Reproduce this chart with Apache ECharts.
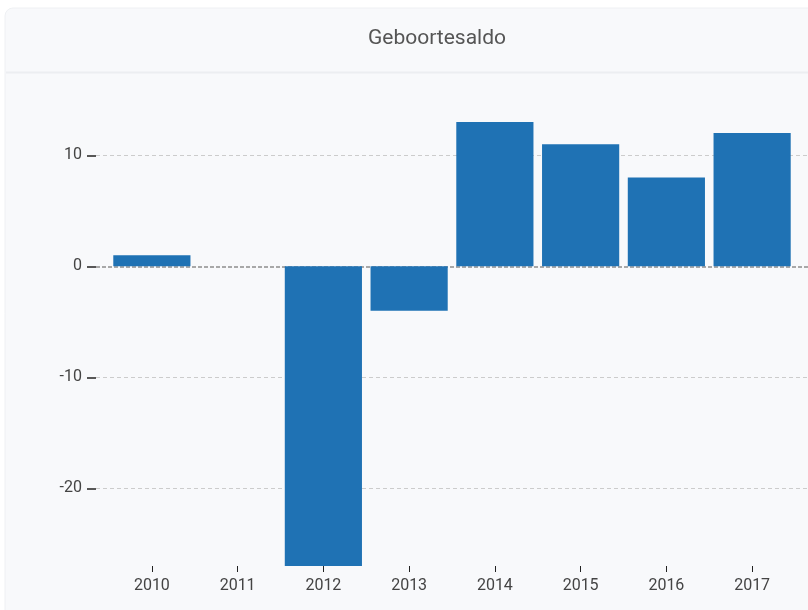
<!DOCTYPE html>
<html>
<head>
<meta charset="utf-8">
<script src="https://cdn.jsdelivr.net/npm/echarts@6/dist/echarts.min.js"></script>
<style>
html,body{margin:0;padding:0;background:#ffffff;}
#chart{width:808px;height:610px;}
</style>
</head>
<body>
<div id="chart"></div>
<script>
const categories = ['2010','2011','2012','2013','2014','2015','2016','2017'];
const values = [1, 0, -27, -4, 13, 11, 8, 12];
const yTicks = [-20, -10, 0, 10];
const gridLines = [-20, -10, 10];
const zeroLine = [0];
const titleText = 'Geboortesaldo';

const chart = echarts.init(document.getElementById('chart'));
const font = 'Roboto, "Noto Sans", sans-serif';
chart.setOption({
  animation: false,
  backgroundColor: 'transparent',
  textStyle: {fontFamily: font},
  title: {
    text: titleText, left: 432, top: 23, textAlign: 'center',
    textStyle: {fontFamily: font, fontSize: 21, fontWeight: 'normal', color: '#555555'}
  },
  graphic: [
    {type: 'rect', z: -10, silent: true, shape: {x: 5, y: 8, width: 900, height: 700, r: [8, 0, 0, 0]},
     style: {fill: '#f8f9fb', stroke: '#eef0f3', lineWidth: 1}},
    {type: 'line', z: -9, silent: true, shape: {x1: 6, y1: 72.5, x2: 808, y2: 72.5},
     style: {stroke: '#eceef1', lineWidth: 2}}
  ],
  grid: [
    {left: 96, right: 0, top: 122, bottom: 44},
    {left: 109, right: 13, top: 122, bottom: 44}
  ],
  xAxis: [
    {type: 'value', gridIndex: 0, min: 0, max: 1, show: false},
    {type: 'category', gridIndex: 1, data: categories, position: 'bottom',
     axisLine: {show: false, onZero: false},
     axisTick: {show: true, alignWithLabel: true, length: 6, lineStyle: {color: '#222222', width: 1}},
     axisLabel: {color: '#444444', fontSize: 16, margin: 12, fontFamily: font},
     splitLine: {show: false}}
  ],
  yAxis: [
    {type: 'value', gridIndex: 0, min: -27, max: 13,
     axisLine: {show: false},
     axisTick: {show: true, length: 9, customValues: yTicks, lineStyle: {color: '#222222', width: 1.5}},
     axisLabel: {color: '#444444', fontSize: 16, margin: 14, customValues: yTicks, fontFamily: font},
     splitLine: {show: false}},
    {type: 'value', gridIndex: 1, min: -27, max: 13, show: false, splitLine: {show: false}}
  ],
  series: [
    {type: 'line', xAxisIndex: 0, yAxisIndex: 0, data: [[0, 0]], showSymbol: false, symbol: 'none',
     lineStyle: {opacity: 0}, silent: true, zlevel: 0, z: 1,
     markLine: {
       silent: true, symbol: 'none', label: {show: false}, animation: false,
       data: gridLines.map(v => ({yAxis: v, lineStyle: {color: '#cccccc', type: [4, 3], width: 1}}))
     }},
    {type: 'bar', xAxisIndex: 1, yAxisIndex: 1, data: values, barCategoryGap: '10%', zlevel: 1,
     itemStyle: {color: '#1f72b4', borderWidth: 0}},
    {type: 'line', xAxisIndex: 0, yAxisIndex: 0, data: [[0, 0]], showSymbol: false, symbol: 'none',
     lineStyle: {opacity: 0}, silent: true, zlevel: 2,
     markLine: {
       silent: true, symbol: 'none', label: {show: false}, animation: false,
       data: zeroLine.map(v => ({yAxis: v, lineStyle: {color: '#a8a8a8', type: [4, 2], width: 2}}))
     }}
  ]
});
</script>
</body>
</html>
